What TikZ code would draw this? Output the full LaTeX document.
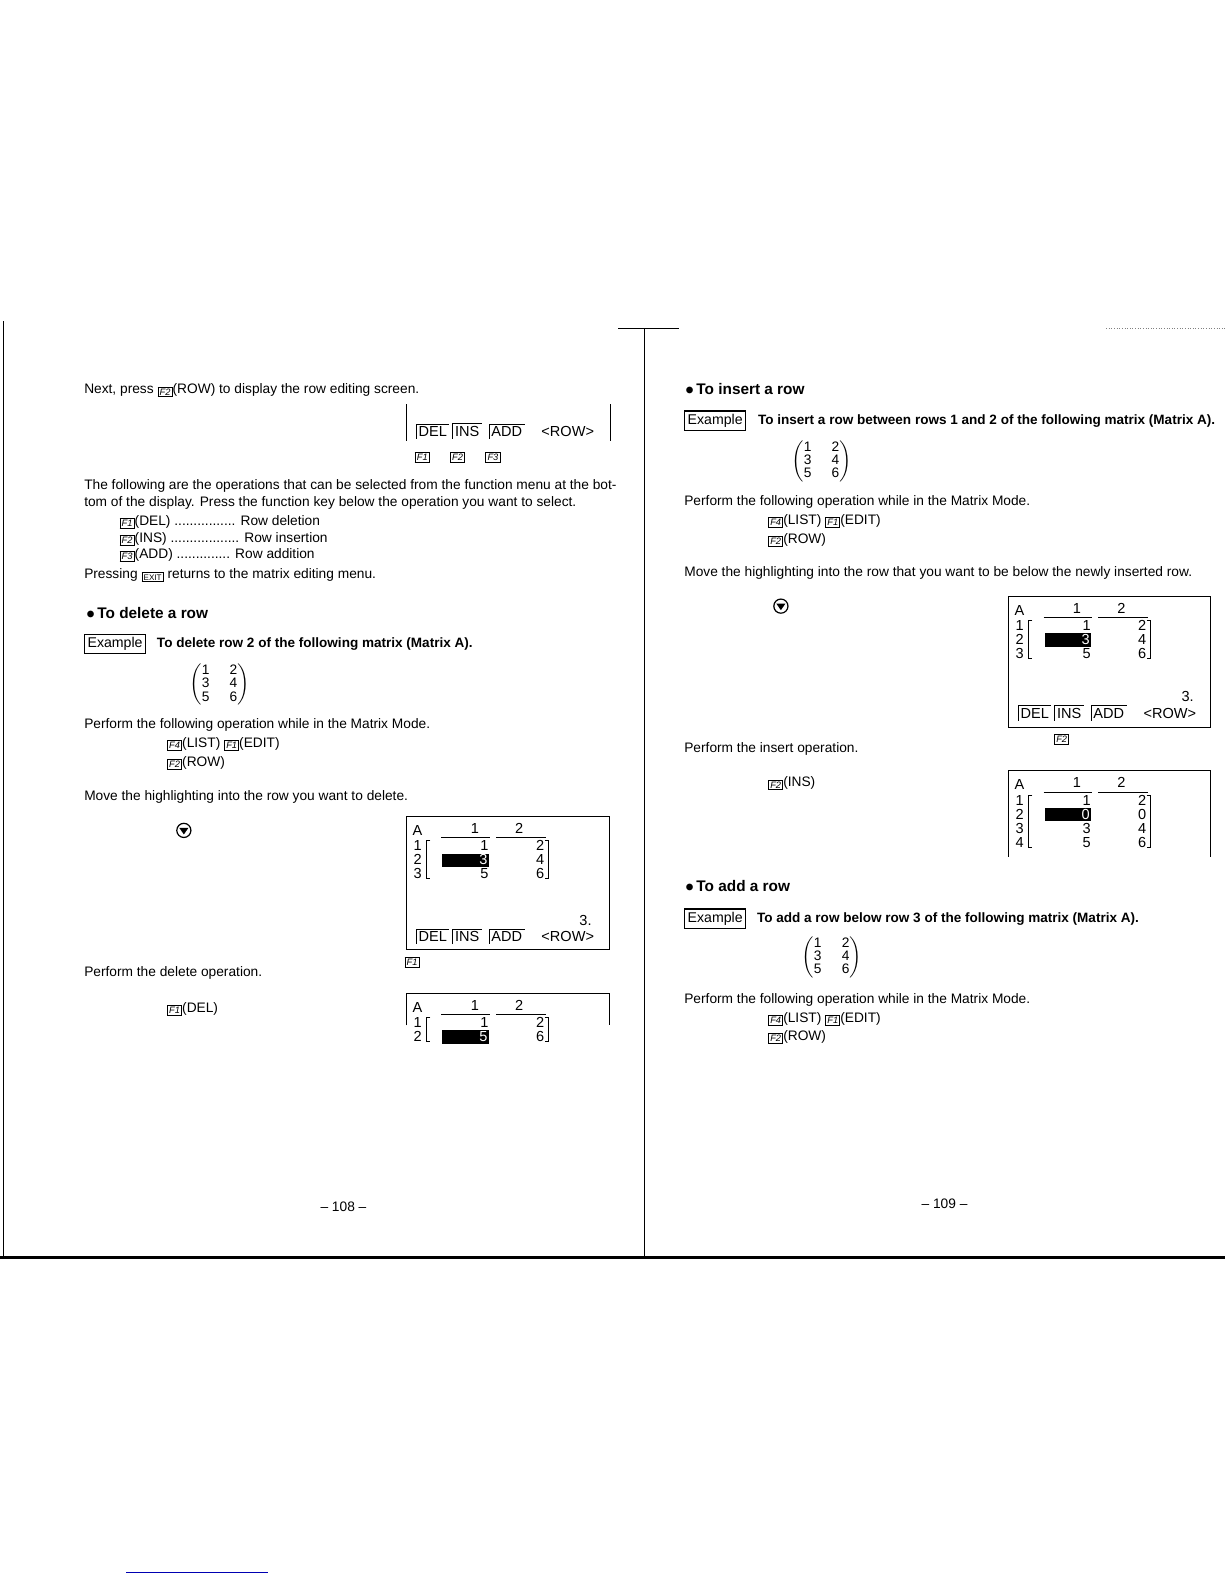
\documentclass[tikz,border=0pt]{standalone}
\usepackage{amsmath}
\usepackage{fontspec}
\setmainfont{Liberation Sans}
\usetikzlibrary{calc}

\newcommand\fk[1]{\raisebox{-0.6pt}{\fboxsep=0.6pt\fboxrule=0.45pt\fbox{\fontsize{4.6}{5}\selectfont\itshape F#1}}}
\newcommand\exitkey{\raisebox{-0.6pt}{\fboxsep=0.6pt\fboxrule=0.45pt\fbox{\fontsize{4}{5}\selectfont EXIT}}}
\newcommand\matA{{\fontsize{6.8}{7}\selectfont\renewcommand\arraystretch{0.9}$\begin{pmatrix}\text{1}&\text{2}\\\text{3}&\text{4}\\\text{5}&\text{6}\end{pmatrix}$}}

% one row of the matrix screen, row k, label, two values
\newcommand\lcdrow[4]{%
  \node[lcd,anchor=base west] at (7,{34+14*(#1-1)}) {#2};
  \node[lcd,anchor=base east] at (82,{34+14*(#1-1)}) {#3};
  \node[lcd,anchor=base east] at (137,{34+14*(#1-1)}) {#4};}
\newcommand\lcdrowhl[4]{%
  \fill (36,{23+14*(#1-1)}) rectangle (82,{36+14*(#1-1)});
  \node[lcd,anchor=base west] at (7,{34+14*(#1-1)}) {#2};
  \node[lcd,anchor=base east,white] at (81,{34+14*(#1-1)}) {#3};
  \node[lcd,anchor=base east] at (137,{34+14*(#1-1)}) {#4};}
% heading and brackets for n rows
\newcommand\lcdgrid[1]{%
  \node[lcd,anchor=base west] at (6,19) {A};
  \node[lcd] at (68,12) {1};
  \node[lcd] at (112,12) {2};
  \draw (35,21) -- (83,21) (89,21) -- (138,21);
  \draw (24,24) -- (20,24) -- (20,{20+14*#1}) -- (24,{20+14*#1});
  \draw (137,24) -- (141,24) -- (141,{20+14*#1}) -- (137,{20+14*#1});}
\newcommand\mk[3]{%
  \node[lcd,anchor=base west,inner sep=1pt] (mk) at (#1,#2) {#3};
  \draw (mk.south west) |- (mk.north east);}
\newcommand\lcdmenu[1]{%
  \mk{10}{#1}{DEL}\mk{46}{#1}{INS}\mk{82}{#1}{ADD}
  \node[lcd,anchor=base] at (160,#1) {<ROW>};}
\newcommand\cursordown[2]{%
  \draw[line width=0.6pt] (#1,#2) circle (7);
  \fill (#1-4.5,#2-2.5) -- (#1+4.5,#2-2.5) -- (#1,#2+4) -- cycle;}

\begin{document}
\begin{tikzpicture}[x=0.5pt,y=-0.5pt,
  txt/.style={anchor=base west,inner sep=0pt,font=\fontsize{6.8}{8}\selectfont},
  head/.style={anchor=base west,inner sep=0pt,font=\fontsize{7.6}{9}\selectfont\bfseries},
  extxt/.style={anchor=base west,inner sep=0pt,font=\fontsize{6.7}{8}\selectfont\bfseries},
  exbox/.style={draw,line width=0.7pt,anchor=base west,inner sep=1.5pt,font=\fontsize{7}{8}\selectfont},
  lcd/.style={inner sep=0pt,font=\fontsize{7.2}{8}\selectfont},
  lcdkey/.style={inner sep=0pt,font=\fontsize{7}{8}\selectfont}]

  % fold and page edges
  \draw[line width=0.6pt] (638,325) -- (638,1245);
  \draw[line width=0.8pt] (612,325) -- (672,325);
  \draw[line width=0.4pt] (3,318) -- (3,1245);
  \draw[line width=1.5pt] (0,1245) -- (1224,1245);
  \draw[densely dotted,gray,line width=0.3pt] (1095,325) -- (1224,325);
  \draw[blue!70!black,line width=0.5pt] (125,1557) -- (265,1557);

  % ---------------- page 108 ----------------
  \node[txt] at (83,390) {Next, press \fk2(ROW) to display the row editing screen.};
  \draw (402,400) -- (402,437) (604,400) -- (604,437);
  \begin{scope}[shift={(402,0)}]
    \lcdmenu{432}
  \end{scope}
  \node[lcdkey] at (418,453) {\fk1};
  \node[lcdkey] at (453,453) {\fk2};
  \node[lcdkey] at (488,453) {\fk3};

  \node[txt] at (83,485) {The following are the operations that can be selected from the function menu at the bot-};
  \node[txt] at (83,501) {tom of the display. Press the function key below the operation you want to select.};
  \node[txt] at (118,520) {\fk1(DEL) ................ Row deletion};
  \node[txt] at (118,537) {\fk2(INS) .................. Row insertion};
  \node[txt] at (118,553) {\fk3(ADD) .............. Row addition};
  \node[txt] at (83,573) {Pressing \exitkey\ returns to the matrix editing menu.};

  \node[head] at (85,612) {$\bullet$\,To delete a row};
  \node[exbox] at (83,641) {Example};
  \node[extxt] at (155,641) {To delete row 2 of the following matrix (Matrix A).};
  \node[txt,anchor=west] at (187,678) {\matA};

  \node[txt] at (83,721) {Perform the following operation while in the Matrix Mode.};
  \node[txt] at (165,740) {\fk4(LIST) \fk1(EDIT)};
  \node[txt] at (165,759) {\fk2(ROW)};
  \node[txt] at (83,792) {Move the highlighting into the row you want to delete.};
  \cursordown{182}{822}

  \draw (402,808) rectangle (603,940);
  \begin{scope}[shift={(402,808)}]
    \lcdgrid{3}
    \lcdrow{1}{1}{1}{2}
    \lcdrowhl{2}{2}{3}{4}
    \lcdrow{3}{3}{5}{6}
    \node[lcd,anchor=base east] at (184,108) {3.};
    \lcdmenu{124}
  \end{scope}
  \node[lcdkey] at (408,953) {\fk1};

  \node[txt] at (83,967) {Perform the delete operation.};
  \node[txt] at (165,1002) {\fk1(DEL)};
  \draw (402,1015) |- (603,983) -- (603,1015);
  \begin{scope}[shift={(402,983)}]
    \lcdgrid{2}
    \lcdrow{1}{1}{1}{2}
    \lcdrowhl{2}{2}{5}{6}
  \end{scope}

  \node[txt,anchor=base] at (340,1199) {-- 108 --};

  % ---------------- page 109 ----------------
  \node[head] at (678,391) {$\bullet$\,To insert a row};
  \node[exbox] at (677,420) {Example};
  \node[extxt] at (750,420) {To insert a row between rows 1 and 2 of the following matrix (Matrix A).};
  \node[txt,anchor=west] at (783,457) {\matA};

  \node[txt] at (677,500) {Perform the following operation while in the Matrix Mode.};
  \node[txt] at (760,519) {\fk4(LIST) \fk1(EDIT)};
  \node[txt] at (760,538) {\fk2(ROW)};
  \node[txt] at (677,571) {Move the highlighting into the row that you want to be below the newly inserted row.};
  \cursordown{773}{600}

  \draw (998,590) rectangle (1198,720);
  \begin{scope}[shift={(998,590)}]
    \lcdgrid{3}
    \lcdrow{1}{1}{1}{2}
    \lcdrowhl{2}{2}{3}{4}
    \lcdrow{3}{3}{5}{6}
    \node[lcd,anchor=base east] at (184,104) {3.};
    \lcdmenu{121}
  \end{scope}
  \node[lcdkey] at (1051,732) {\fk2};

  \node[txt] at (677,745) {Perform the insert operation.};
  \node[txt] at (760,779) {\fk2(INS)};
  \draw (998,848) |- (1198,763) -- (1198,848);
  \begin{scope}[shift={(998,763)}]
    \lcdgrid{4}
    \lcdrow{1}{1}{1}{2}
    \lcdrowhl{2}{2}{0}{0}
    \lcdrow{3}{3}{3}{4}
    \lcdrow{4}{4}{5}{6}
  \end{scope}

  \node[head] at (678,882) {$\bullet$\,To add a row};
  \node[exbox] at (677,913) {Example};
  \node[extxt] at (749,913) {To add a row below row 3 of the following matrix (Matrix A).};
  \node[txt,anchor=west] at (793,948) {\matA};

  \node[txt] at (677,993) {Perform the following operation while in the Matrix Mode.};
  \node[txt] at (760,1012) {\fk4(LIST) \fk1(EDIT)};
  \node[txt] at (760,1030) {\fk2(ROW)};

  \node[txt,anchor=base] at (935,1196) {-- 109 --};

  \pgfresetboundingbox
  \useasboundingbox (0,0) rectangle (1212,1568);
\end{tikzpicture}
\end{document}
